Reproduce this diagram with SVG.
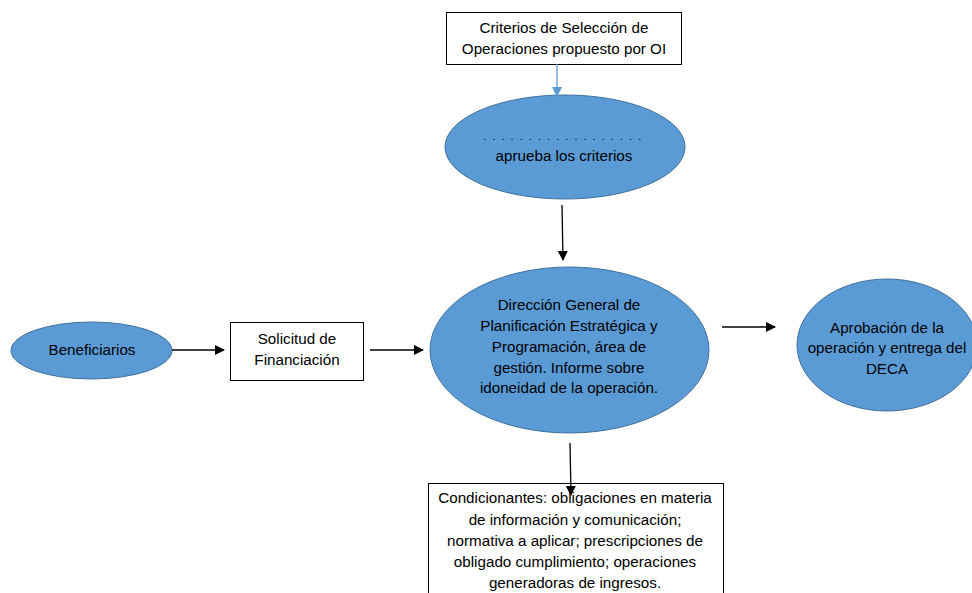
<svg xmlns="http://www.w3.org/2000/svg" width="972" height="593" viewBox="0 0 972 593">
<defs>
<marker id="ah" markerWidth="10" markerHeight="10" refX="9" refY="5" orient="auto" markerUnits="userSpaceOnUse"><path d="M0,0 L10,5 L0,10 Z" fill="#000"/></marker>
<marker id="ahb" markerWidth="10" markerHeight="10" refX="9" refY="5" orient="auto" markerUnits="userSpaceOnUse"><path d="M0,0 L10,5 L0,10 Z" fill="#5b9bd5"/></marker>
<style>
.t{font-family:"Liberation Sans",Arial,sans-serif;font-size:15.2px;fill:#000;text-anchor:middle}
.e{fill:#5b9bd5;stroke:#41719c;stroke-width:1}
.b{fill:#fff;stroke:#000;stroke-width:1}
.c{stroke:#000;stroke-width:1.3;fill:none;marker-end:url(#ah)}
</style>
</defs>
<rect width="972" height="593" fill="#fff"/>
<g id="criterios">
<rect class="b" x="446.5" y="12.5" width="235" height="52"/>
<text class="t" x="564" y="33">Criterios de Selección de</text>
<text class="t" x="564" y="54">Operaciones propuesto por OI</text>
</g>
<g id="aprueba">
<ellipse class="e" cx="565" cy="147" rx="120" ry="52"/>
<text class="t" x="563" y="140" style="font-size:11px;letter-spacing:1.5px">. . . . . . . . . . . . . . . . . .</text>
<text class="t" x="564" y="161">aprueba los criterios</text>
</g>
<g id="beneficiarios">
<ellipse class="e" cx="91.5" cy="350.5" rx="80.5" ry="28.5"/>
<text class="t" x="92" y="355">Beneficiarios</text>
</g>
<g id="solicitud">
<rect class="b" x="230.5" y="322.5" width="133" height="58"/>
<text class="t" x="297" y="344">Solicitud de</text>
<text class="t" x="297" y="365">Financiación</text>
</g>
<g id="direccion">
<ellipse class="e" cx="569.5" cy="350" rx="139.5" ry="83"/>
<text class="t" x="569" y="310">Dirección General de</text>
<text class="t" x="569" y="331">Planificación Estratégica y</text>
<text class="t" x="569" y="352">Programación, área de</text>
<text class="t" x="569" y="373">gestión. Informe sobre</text>
<text class="t" x="569" y="393">idoneidad de la operación.</text>
</g>
<g id="aprobacion">
<ellipse class="e" cx="887" cy="345" rx="90" ry="66"/>
<text class="t" x="887" y="333">Aprobación de la</text>
<text class="t" x="887" y="353">operación y entrega del</text>
<text class="t" x="887" y="374">DECA</text>
</g>
<g id="condicionantes">
<rect class="b" x="428.5" y="483.5" width="295" height="120"/>
<text class="t" x="575" y="503">Condicionantes: obligaciones en materia</text>
<text class="t" x="575" y="525">de información y comunicación;</text>
<text class="t" x="575" y="546">normativa a aplicar; prescripciones de</text>
<text class="t" x="575" y="567">obligado cumplimiento; operaciones</text>
<text class="t" x="575" y="588">generadoras de ingresos.</text>
</g>
<g id="connectors">
<line x1="557" y1="64" x2="557" y2="96" stroke="#5b9bd5" stroke-width="1.3" marker-end="url(#ahb)"/>
<line class="c" x1="562" y1="205" x2="563" y2="260"/>
<line class="c" x1="172" y1="350" x2="224" y2="350"/>
<line class="c" x1="370" y1="350" x2="423" y2="350"/>
<line class="c" x1="722" y1="327" x2="775" y2="327"/>
<line class="c" x1="570" y1="443" x2="571" y2="495"/>
</g>
</svg>
